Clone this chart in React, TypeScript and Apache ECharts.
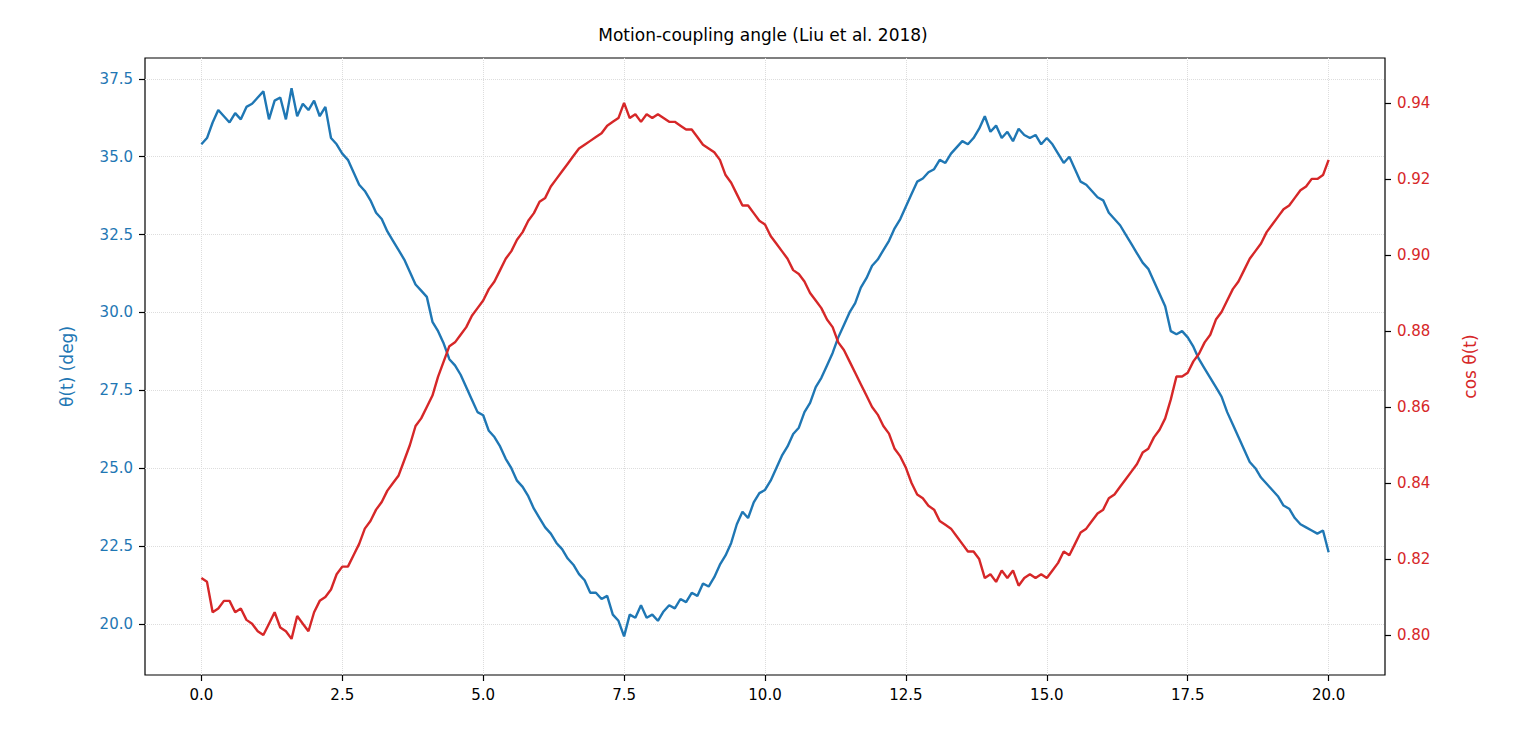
import React, { useEffect, useRef } from "react";
import * as echarts from "echarts";

// theta(t) in degrees, t = 0..20 step 0.1
const thetaDeg = [
  35.4, 35.6, 36.1, 36.5, 36.3, 36.1, 36.4, 36.2, 36.6, 36.7,
  36.9, 37.1, 36.2, 36.8, 36.9, 36.2, 37.2, 36.3, 36.7, 36.5,
  36.8, 36.3, 36.6, 35.6, 35.4, 35.1, 34.9, 34.5, 34.1, 33.9,
  33.6, 33.2, 33.0, 32.6, 32.3, 32.0, 31.7, 31.3, 30.9, 30.7,
  30.5, 29.7, 29.4, 29.0, 28.5, 28.3, 28.0, 27.6, 27.2, 26.8,
  26.7, 26.2, 26.0, 25.7, 25.3, 25.0, 24.6, 24.4, 24.1, 23.7,
  23.4, 23.1, 22.9, 22.6, 22.4, 22.1, 21.9, 21.6, 21.4, 21.0,
  21.0, 20.8, 20.9, 20.3, 20.1, 19.6, 20.3, 20.2, 20.6, 20.2,
  20.3, 20.1, 20.4, 20.6, 20.5, 20.8, 20.7, 21.0, 20.9, 21.3,
  21.2, 21.5, 21.9, 22.2, 22.6, 23.2, 23.6, 23.4, 23.9, 24.2,
  24.3, 24.6, 25.0, 25.4, 25.7, 26.1, 26.3, 26.8, 27.1, 27.6,
  27.9, 28.3, 28.7, 29.2, 29.6, 30.0, 30.3, 30.8, 31.1, 31.5,
  31.7, 32.0, 32.3, 32.7, 33.0, 33.4, 33.8, 34.2, 34.3, 34.5,
  34.6, 34.9, 34.8, 35.1, 35.3, 35.5, 35.4, 35.6, 35.9, 36.3,
  35.8, 36.0, 35.6, 35.8, 35.5, 35.9, 35.7, 35.6, 35.7, 35.4,
  35.6, 35.4, 35.1, 34.8, 35.0, 34.6, 34.2, 34.1, 33.9, 33.7,
  33.6, 33.2, 33.0, 32.8, 32.5, 32.2, 31.9, 31.6, 31.4, 31.0,
  30.6, 30.2, 29.4, 29.3, 29.4, 29.2, 28.9, 28.5, 28.2, 27.9,
  27.6, 27.3, 26.8, 26.4, 26.0, 25.6, 25.2, 25.0, 24.7, 24.5,
  24.3, 24.1, 23.8, 23.7, 23.4, 23.2, 23.1, 23.0, 22.9, 23.0,
  22.3,
];

// cos theta(t), t = 0..20 step 0.1
const cosTheta = [
  0.815, 0.814, 0.806, 0.807, 0.809, 0.809, 0.806, 0.807, 0.804, 0.803,
  0.801, 0.8, 0.803, 0.806, 0.802, 0.801, 0.799, 0.805, 0.803, 0.801,
  0.806, 0.809, 0.81, 0.812, 0.816, 0.818, 0.818, 0.821, 0.824, 0.828,
  0.83, 0.833, 0.835, 0.838, 0.84, 0.842, 0.846, 0.85, 0.855, 0.857,
  0.86, 0.863, 0.868, 0.872, 0.876, 0.877, 0.879, 0.881, 0.884, 0.886,
  0.888, 0.891, 0.893, 0.896, 0.899, 0.901, 0.904, 0.906, 0.909, 0.911,
  0.914, 0.915, 0.918, 0.92, 0.922, 0.924, 0.926, 0.928, 0.929, 0.93,
  0.931, 0.932, 0.934, 0.935, 0.936, 0.94, 0.936, 0.937, 0.935, 0.937,
  0.936, 0.937, 0.936, 0.935, 0.935, 0.934, 0.933, 0.933, 0.931, 0.929,
  0.928, 0.927, 0.925, 0.921, 0.919, 0.916, 0.913, 0.913, 0.911, 0.909,
  0.908, 0.905, 0.903, 0.901, 0.899, 0.896, 0.895, 0.893, 0.89, 0.888,
  0.886, 0.883, 0.881, 0.877, 0.875, 0.872, 0.869, 0.866, 0.863, 0.86,
  0.858, 0.855, 0.853, 0.849, 0.847, 0.844, 0.84, 0.837, 0.836, 0.834,
  0.833, 0.83, 0.829, 0.828, 0.826, 0.824, 0.822, 0.822, 0.82, 0.815,
  0.816, 0.814, 0.817, 0.815, 0.817, 0.813, 0.815, 0.816, 0.815, 0.816,
  0.815, 0.817, 0.819, 0.822, 0.821, 0.824, 0.827, 0.828, 0.83, 0.832,
  0.833, 0.836, 0.837, 0.839, 0.841, 0.843, 0.845, 0.848, 0.849, 0.852,
  0.854, 0.857, 0.862, 0.868, 0.868, 0.869, 0.872, 0.874, 0.877, 0.879,
  0.883, 0.885, 0.888, 0.891, 0.893, 0.896, 0.899, 0.901, 0.903, 0.906,
  0.908, 0.91, 0.912, 0.913, 0.915, 0.917, 0.918, 0.92, 0.92, 0.921,
  0.925,
];

const xTicks = [0, 2.5, 5, 7.5, 10, 12.5, 15, 17.5, 20];
const leftTicks = [20, 22.5, 25, 27.5, 30, 32.5, 35, 37.5];
const rightTicks = [0.8, 0.82, 0.84, 0.86, 0.88, 0.9, 0.92, 0.94];

const BLUE = "#1f77b4";
const RED = "#d62728";
const FONT = "DejaVu Sans";

const App: React.FC = () => {
  const chartRef = useRef<HTMLDivElement>(null);

  useEffect(() => {
    const chart = echarts.init(chartRef.current!, undefined, { renderer: "svg" });
    const t = thetaDeg.map((_, i) => +(i * 0.1).toFixed(1));
    const split = { show: true, lineStyle: { color: "#dddddd", type: "dotted", width: 1 } };
    const tick = (vals: number[]) => ({
      show: true, inside: false, customValues: vals, length: 6,
      lineStyle: { color: "#000", width: 1.2 },
    });

    chart.setOption({
      animation: false,
      textStyle: { fontFamily: FONT },
      title: {
        text: "Motion-coupling angle (Liu et al. 2018)",
        left: "center",
        top: 21,
        textStyle: { fontFamily: FONT, fontSize: 17, fontWeight: "normal", color: "#000" },
      },
      grid: {
        left: 145, right: 141, top: 58, bottom: 67,
        show: true, borderColor: "#000", borderWidth: 1.2,
      },
      xAxis: {
        type: "value", min: -1, max: 21,
        axisLine: { show: false, onZero: false },
        axisTick: tick(xTicks),
        axisLabel: {
          customValues: xTicks, color: "#000", fontSize: 15, margin: 12,
          formatter: (v: number) => v.toFixed(1),
        },
        splitLine: split,
      },
      yAxis: [
        {
          type: "value", min: 18.36, max: 38.17, position: "left",
          name: "θ(t) (deg)", nameLocation: "middle", nameGap: 70, nameRotate: 90,
          nameTextStyle: { color: BLUE, fontSize: 17, fontFamily: FONT },
          axisLine: { show: false, onZero: false },
          axisTick: tick(leftTicks),
          axisLabel: {
            customValues: leftTicks, color: BLUE, fontSize: 15, margin: 12,
            formatter: (v: number) => v.toFixed(1),
          },
          splitLine: split,
        },
        {
          type: "value", min: 0.7895, max: 0.9518, position: "right",
          name: "cos θ(t)", nameLocation: "middle", nameGap: 76, nameRotate: 90,
          nameTextStyle: { color: RED, fontSize: 17, fontFamily: FONT },
          axisLine: { show: false, onZero: false },
          axisTick: tick(rightTicks),
          axisLabel: {
            customValues: rightTicks, color: RED, fontSize: 15, margin: 12,
            formatter: (v: number) => v.toFixed(2),
          },
          splitLine: { show: false },
        },
      ],
      series: [
        {
          type: "line", yAxisIndex: 0, showSymbol: false,
          data: t.map((x, i) => [x, thetaDeg[i]]),
          lineStyle: { color: BLUE, width: 2.4 }, itemStyle: { color: BLUE },
        },
        {
          type: "line", yAxisIndex: 1, showSymbol: false,
          data: t.map((x, i) => [x, cosTheta[i]]),
          lineStyle: { color: RED, width: 2.4 }, itemStyle: { color: RED },
        },
      ],
    });

    return () => {
      chart.dispose();
    };
  }, []);

  return <div ref={chartRef} style={{ width: 1526, height: 742, margin: -8 }} />;
};

export default App;
